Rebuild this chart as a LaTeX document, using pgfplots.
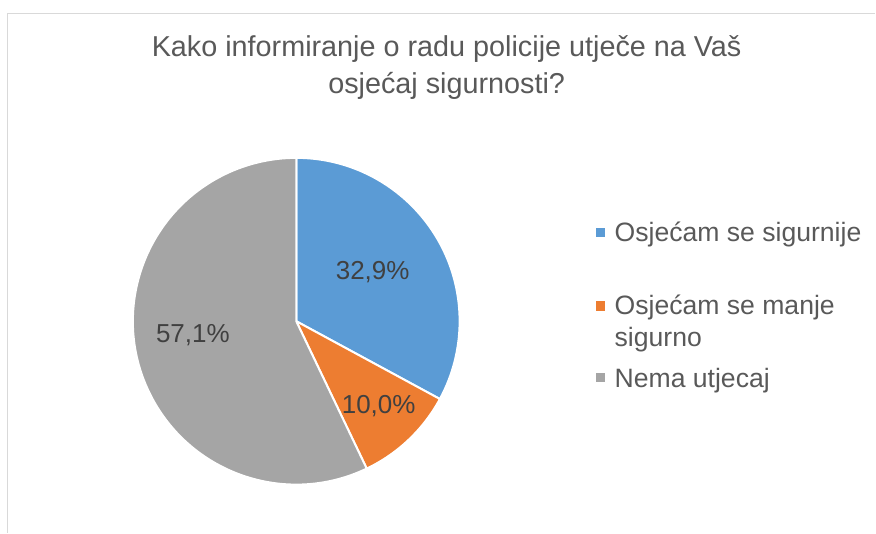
\documentclass[border=0pt]{standalone}
\usepackage{pgfplots}
\pgfplotsset{compat=1.18}
\usepackage{pgfplotstable}
\usepackage{fontspec}
\setmainfont{Liberation Sans}
\definecolor{cBlue}{HTML}{5B9BD5}
\definecolor{cOrange}{HTML}{ED7D31}
\definecolor{cGray}{HTML}{A5A5A5}
\definecolor{cText}{HTML}{595959}
\definecolor{cLabel}{HTML}{404040}
\definecolor{cFrame}{HTML}{D9D9D9}
\pgfplotstableread{
share
32.9
10.0
57.1
}\piedata
\begin{document}
\begin{tikzpicture}
\pgfplotstablegetelem{0}{share}\of\piedata \pgfmathsetmacro{\sA}{\pgfplotsretval}
\pgfplotstablegetelem{1}{share}\of\piedata \pgfmathsetmacro{\sB}{\pgfplotsretval}
\pgfplotstablegetelem{2}{share}\of\piedata \pgfmathsetmacro{\sC}{\pgfplotsretval}
\pgfmathsetmacro{\aA}{90-3.6*\sA}
\pgfmathsetmacro{\aB}{\aA-3.6*\sB}
\pgfmathsetmacro{\aC}{\aB-3.6*\sC}
\begin{axis}[hide axis, scale only axis, width=876bp, height=533bp,
  xmin=0, xmax=876, ymin=0, ymax=533, clip=false]
\path (axis cs:0,0) rectangle (axis cs:876,533);
% frame
\draw[cFrame, line width=1.5bp] (axis cs:7.5,0) -- (axis cs:7.5,519.5) -- (axis cs:876,519.5);
% pie
\filldraw[fill=cBlue, draw=white, line width=2bp, line join=round] (axis cs:296.5,211.5) -- ++(90:163.5bp) arc[start angle=90, end angle=\aA, radius=163.5bp] -- cycle;
\filldraw[fill=cOrange, draw=white, line width=2bp, line join=round] (axis cs:296.5,211.5) -- ++(\aA:163.5bp) arc[start angle=\aA, end angle=\aB, radius=163.5bp] -- cycle;
\filldraw[fill=cGray, draw=white, line width=2bp, line join=round] (axis cs:296.5,211.5) -- ++(\aB:163.5bp) arc[start angle=\aB, end angle=\aC, radius=163.5bp] -- cycle;
% data labels
\node[font=\fontsize{26bp}{30bp}\selectfont, text=cLabel] at (axis cs:373,261) {32,9\%};
\node[font=\fontsize{26bp}{30bp}\selectfont, text=cLabel] at (axis cs:379,127) {10,0\%};
\node[font=\fontsize{26bp}{30bp}\selectfont, text=cLabel] at (axis cs:193,198) {57,1\%};
% title
\node[font=\fontsize{28.8bp}{32bp}\selectfont, text=cText, anchor=base] at (axis cs:447,476) {Kako informiranje o radu policije utječe na Vaš};
\node[font=\fontsize{28.8bp}{32bp}\selectfont, text=cText, anchor=base] at (axis cs:447,439) {osjećaj sigurnosti?};
% legend
\fill[cBlue] (axis cs:596,295.5) rectangle (axis cs:605.5,305);
\fill[cOrange] (axis cs:596,222) rectangle (axis cs:605.5,231.5);
\fill[cGray] (axis cs:596,150.5) rectangle (axis cs:605.5,160);
\node[font=\fontsize{26.6bp}{30bp}\selectfont, text=cText, anchor=base west, inner sep=0pt] at (axis cs:615,291) {Osjećam se sigurnije};
\node[font=\fontsize{26.6bp}{30bp}\selectfont, text=cText, anchor=base west, inner sep=0pt] at (axis cs:615,218) {Osjećam se manje};
\node[font=\fontsize{26.6bp}{30bp}\selectfont, text=cText, anchor=base west, inner sep=0pt] at (axis cs:615,186) {sigurno};
\node[font=\fontsize{26.6bp}{30bp}\selectfont, text=cText, anchor=base west, inner sep=0pt] at (axis cs:615,145) {Nema utjecaj};
\end{axis}
\end{tikzpicture}
\end{document}
